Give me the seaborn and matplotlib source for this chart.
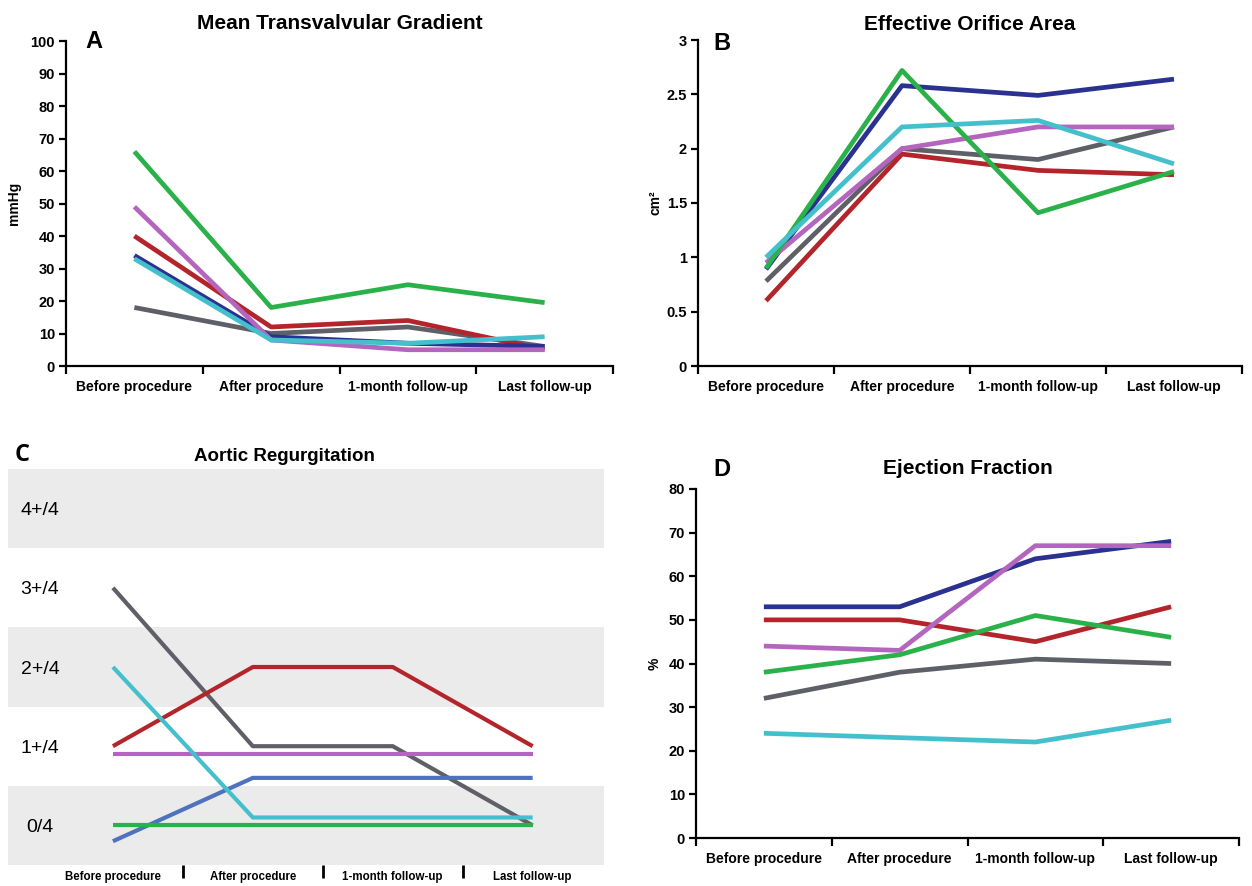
import matplotlib
matplotlib.use("Agg")
import matplotlib.pyplot as plt
import seaborn as sns
import pandas as pd

# ---------------- data ----------------
stages = ["Before procedure", "After procedure", "1-month follow-up", "Last follow-up"]
patients = ["Patient 5", "Patient 6", "Patient 2", "Patient 4", "Patient 1", "Patient 3"]

# A: mean transvalvular gradient (mmHg)
gradient = {
    "Patient 1": [66, 18, 25, 19.5],
    "Patient 2": [34, 9, 7, 6],
    "Patient 3": [33, 8, 7, 9],
    "Patient 4": [49, 8, 5, 5],
    "Patient 5": [18, 10, 12, 6],
    "Patient 6": [40, 12, 14, 5],
}
# B: effective orifice area (cm2)
eoa = {
    "Patient 1": [0.9, 2.72, 1.41, 1.79],
    "Patient 2": [0.89, 2.58, 2.49, 2.64],
    "Patient 3": [1.0, 2.2, 2.26, 1.86],
    "Patient 4": [0.95, 2.0, 2.2, 2.2],
    "Patient 5": [0.78, 2.0, 1.9, 2.2],
    "Patient 6": [0.6, 1.95, 1.8, 1.76],
}
# C: aortic regurgitation grade
ar_grade = {
    "Patient 1": [0, 0, 0, 0],
    "Patient 2": [-0.2, 0.6, 0.6, 0.6],
    "Patient 3": [2, 0.1, 0.1, 0.1],
    "Patient 4": [0.9, 0.9, 0.9, 0.9],
    "Patient 5": [3, 1, 1, 0],
    "Patient 6": [1, 2, 2, 1],
}
ar_labels = ["0/4", "1+/4", "2+/4", "3+/4", "4+/4"]
# D: ejection fraction (%)
ef = {
    "Patient 1": [38, 42, 51, 46],
    "Patient 2": [53, 53, 64, 68],
    "Patient 3": [24, 23, 22, 27],
    "Patient 4": [44, 43, 67, 67],
    "Patient 5": [32, 38, 41, 40],
    "Patient 6": [50, 50, 45, 53],
}

palette = {
    "Patient 1": "#2bb14a",
    "Patient 2": "#2a3190",
    "Patient 3": "#44c0cd",
    "Patient 4": "#b466bf",
    "Patient 5": "#5f5f67",
    "Patient 6": "#b3252b",
}
palette_c = dict(palette)
palette_c["Patient 2"] = "#4f72bf"


def long_df(d):
    rows = []
    for p in patients:
        for s, v in zip(stages, d[p]):
            rows.append({"stage": s, "value": v, "patient": p})
    return pd.DataFrame(rows)


# ---------------- style ----------------
sns.set_theme(style="ticks")
plt.rcParams["font.family"] = ["Liberation Sans", "DejaVu Sans"]
plt.rcParams["lines.solid_capstyle"] = "butt"
for key in ["text.color", "axes.labelcolor", "xtick.color", "ytick.color", "axes.edgecolor"]:
    plt.rcParams[key] = "black"

W, H = 1252, 886
fig = plt.figure(figsize=(W / 100, H / 100), dpi=100)


def px_axes(x0, y0, x1, y1):
    return fig.add_axes([x0 / W, 1 - y1 / H, (x1 - x0) / W, (y1 - y0) / H])


axA = px_axes(66, 41, 613, 366)
axB = px_axes(698, 40, 1242, 366)
axC = px_axes(8, 469, 604, 865)
axD = px_axes(696, 489, 1239, 838)


def draw(ax, d, pal, lw=3.4):
    sns.lineplot(data=long_df(d), x="stage", y="value", hue="patient",
                 hue_order=patients, palette=pal, sort=False, linewidth=lw,
                 legend=False, ax=ax)
    ax.set_xlabel("")


def style_xy(ax, ylim, yticks, yticklabels, ylabel, labelpad):
    ax.set_xlim(-0.5, 3.5)
    ax.set_ylim(*ylim)
    ax.set_yticks(yticks)
    ax.set_yticklabels(yticklabels)
    ax.set_xticks(range(4))
    ax.set_xticklabels(stages)
    ax.set_xticks([-0.5, 0.5, 1.5, 2.5, 3.5], minor=True)
    for s in ["top", "right"]:
        ax.spines[s].set_visible(False)
    for s in ["left", "bottom"]:
        ax.spines[s].set_linewidth(1.6)
        ax.spines[s].set_color("black")
    ax.tick_params(axis="x", which="major", length=0, pad=10)
    ax.tick_params(axis="x", which="minor", length=6, width=1.6, direction="out", color="black")
    ax.tick_params(axis="y", length=5, width=1.6, direction="out", color="black", pad=3)
    for lab in ax.get_xticklabels():
        lab.set_fontweight("bold")
        lab.set_fontsize(10)
    for lab in ax.get_yticklabels():
        lab.set_fontweight("bold")
        lab.set_fontsize(10.5)
    ax.set_ylabel(ylabel, fontsize=10, fontweight="bold", labelpad=labelpad)


# A
draw(axA, gradient, palette)
style_xy(axA, (0, 100), range(0, 101, 10), [str(v) for v in range(0, 101, 10)], "mmHg", 7)
axA.set_title("Mean Transvalvular Gradient", fontsize=15, fontweight="bold", pad=9)

# B
draw(axB, eoa, palette)
b_ticks = [0, 0.5, 1, 1.5, 2, 2.5, 3]
style_xy(axB, (0, 3), b_ticks, ["0", "0.5", "1", "1.5", "2", "2.5", "3"], "cm²", 3)
axB.set_title("Effective Orifice Area", fontsize=15, fontweight="bold", pad=7.5)

# D
draw(axD, ef, palette)
style_xy(axD, (0, 80), range(0, 81, 10), [str(v) for v in range(0, 81, 10)], "%", 5)
axD.set_title("Ejection Fraction", fontsize=15, fontweight="bold", pad=10.5)

# C
for lo, hi in [(-0.5, 0.5), (1.5, 2.5), (3.5, 4.5)]:
    axC.axhspan(lo, hi, color="#ebebeb", zorder=0, lw=0)
draw(axC, ar_grade, palette_c, lw=3.0)
axC.set_xlim(-0.75, 3.51)
axC.set_ylim(-0.5, 4.5)
for s in axC.spines.values():
    s.set_visible(False)
axC.set_yticks(range(5))
axC.set_yticklabels(ar_labels)
axC.tick_params(axis="y", length=0, pad=-23)
for lab in axC.get_yticklabels():
    lab.set_horizontalalignment("center")
    lab.set_fontsize(14)
axC.set_ylabel("")
axC.set_xticks(range(4))
axC.set_xticklabels(stages)
axC.set_xticks([0.5, 1.5, 2.5], minor=True)
axC.tick_params(axis="x", which="major", length=0, pad=4)
axC.tick_params(axis="x", which="minor", length=9, width=2, direction="out", color="black")
for lab in axC.get_xticklabels():
    lab.set_fontweight("bold")
    lab.set_fontsize(8.3)
axC.set_title("Aortic Regurgitation", fontsize=13.5, fontweight="bold", x=0.463, pad=6)

# panel letters
fig.text(94 / W, 1 - 41 / H, "A", fontsize=17, fontweight="bold", ha="center", va="center")
fig.text(722 / W, 1 - 43 / H, "B", fontsize=17, fontweight="bold", ha="center", va="center")
fig.text(22 / W, 1 - 455 / H, "C", fontsize=17, fontweight="bold", ha="center", va="center",
         family=["Open Sans", "DejaVu Sans"])
fig.text(722 / W, 1 - 470 / H, "D", fontsize=17, fontweight="bold", ha="center", va="center")

fig.savefig("out.png", dpi=100)
